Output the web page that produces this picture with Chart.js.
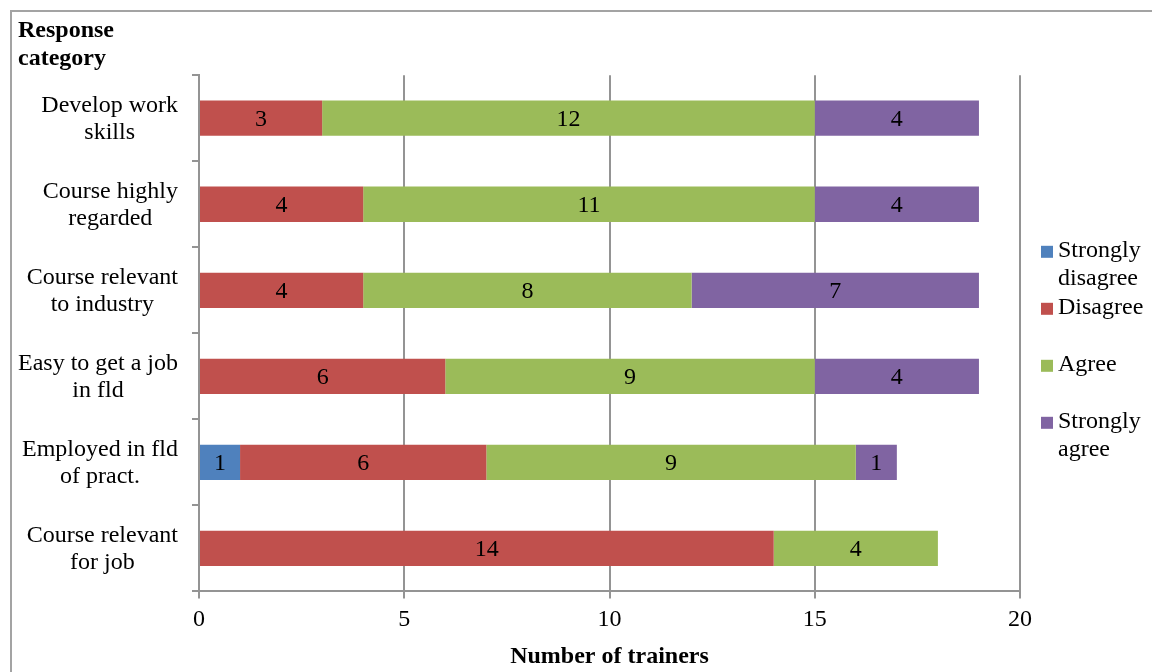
<!DOCTYPE html>
<html>
<head>
<meta charset="utf-8">
<script src="https://cdn.jsdelivr.net/npm/chart.js@4"></script>
<style>
  html, body { margin: 0; padding: 0; background: #fff; overflow: hidden; }
  #wrap { position: relative; width: 1152px; height: 672px; overflow: hidden; }
  #frame { position: absolute; left: 10px; top: 10px; width: 1400px; height: 900px; border: 2px solid #a3a3a3; box-sizing: border-box; }
  #survey { position: absolute; left: 0; top: 0; }
</style>
</head>
<body>
<div id="wrap">
  <div id="frame"></div>
  <canvas id="survey" width="1152" height="672"></canvas>
</div>
<script>
const categories = [
  ['Develop work', 'skills'],
  ['Course highly', 'regarded'],
  ['Course relevant', 'to industry'],
  ['Easy to get a job', 'in fld'],
  ['Employed in fld', 'of pract.'],
  ['Course relevant', 'for job']
];
const seriesNames = [['Strongly', 'disagree'], ['Disagree'], ['Agree'], ['Strongly', 'agree']];
const stronglyDisagree = [0, 0, 0, 0, 1, 0];
const disagree = [3, 4, 4, 6, 6, 14];
const agree = [12, 11, 8, 9, 9, 4];
const stronglyAgree = [4, 4, 7, 4, 1, 0];
const xTicks = [0, 5, 10, 15, 20];

const colors = ['#4F81BD', '#C0504D', '#9BBB59', '#8064A2'];
const FONT = '"Liberation Serif", "Times New Roman", serif';
const SIZE = 24;
const LINE = 27.6;
const gridColor = '#949494';

// value labels centred on each non-empty segment
const barLabels = {
  id: 'barLabels',
  afterDatasetsDraw(chart) {
    const ctx = chart.ctx;
    ctx.save();
    ctx.font = SIZE + 'px ' + FONT;
    ctx.fillStyle = '#000';
    ctx.textAlign = 'center';
    ctx.textBaseline = 'middle';
    chart.data.datasets.forEach((ds, di) => {
      chart.getDatasetMeta(di).data.forEach((bar, i) => {
        const v = ds.data[i];
        if (!v) return;
        const p = bar.getCenterPoint();
        ctx.fillText(String(v), p.x, p.y + 1);
      });
    });
    ctx.restore();
  }
};

// category names: lines centred within each block, blocks right-aligned to the axis
const categoryLabels = {
  id: 'categoryLabels',
  afterDraw(chart) {
    const ctx = chart.ctx;
    const y = chart.scales.y;
    const rightEdge = y.right - 21;
    ctx.save();
    ctx.font = SIZE + 'px ' + FONT;
    ctx.fillStyle = '#000';
    ctx.textAlign = 'center';
    ctx.textBaseline = 'middle';
    categories.forEach((lines, i) => {
      const cy = y.getPixelForTick(i);
      const w = Math.max(...lines.map(l => ctx.measureText(l).width));
      const cx = rightEdge - w / 2;
      lines.forEach((l, k) => {
        ctx.fillText(l, cx, cy + (k - (lines.length - 1) / 2) * LINE + 1);
      });
    });
    ctx.restore();
  }
};

// legend on the right, two-line names wrap under the first line
const sideLegend = {
  id: 'sideLegend',
  afterDraw(chart) {
    const ctx = chart.ctx;
    const area = chart.chartArea;
    const step = 57;
    const x0 = area.right + 21;
    const y0 = (area.top + area.bottom) / 2 - 1.5 * step + 3;
    ctx.save();
    ctx.font = SIZE + 'px ' + FONT;
    ctx.textAlign = 'left';
    ctx.textBaseline = 'middle';
    chart.data.datasets.forEach((ds, i) => {
      const y = y0 + i * step;
      ctx.fillStyle = ds.backgroundColor;
      ctx.fillRect(x0, y - 5, 12, 12);
      ctx.fillStyle = '#000';
      seriesNames[i].forEach((t, k) => ctx.fillText(t, x0 + 17, y + k * 28));
    });
    ctx.restore();
  }
};

const datasets = [stronglyDisagree, disagree, agree, stronglyAgree].map((d, i) => ({
  label: seriesNames[i].join(' '),
  data: d,
  backgroundColor: colors[i],
  borderWidth: 0,
  barPercentage: 0.41,
  categoryPercentage: 1
}));

new Chart(document.getElementById('survey'), {
  type: 'bar',
  data: { labels: categories.map(c => c.join(' ')), datasets },
  options: {
    indexAxis: 'y',
    responsive: false,
    animation: false,
    events: [],
    layout: { padding: { left: 18, right: 132, top: 6, bottom: 0 } },
    plugins: {
      legend: { display: false },
      tooltip: { enabled: false },
      title: {
        display: true,
        text: ['Response', 'category'],
        align: 'start',
        color: '#000',
        font: { family: FONT, size: SIZE, weight: 'bold', lineHeight: 1.15 },
        padding: { top: 11, bottom: 3 }
      }
    },
    scales: {
      x: {
        stacked: true,
        min: 0,
        max: 20,
        afterBuildTicks: s => { s.ticks = xTicks.map(v => ({ value: v })); },
        afterFit: s => { s.paddingRight = 0; s.paddingLeft = 0; },
        grid: { color: gridColor, lineWidth: 2, tickLength: 7, tickColor: gridColor },
        border: { display: true, color: gridColor, width: 2 },
        ticks: { color: '#000', padding: 7, font: { family: FONT, size: SIZE, lineHeight: 1.2 } },
        title: {
          display: true,
          text: 'Number of trainers',
          color: '#000',
          font: { family: FONT, size: SIZE, weight: 'bold', lineHeight: 1.2 },
          padding: { top: 1, bottom: 1 }
        }
      },
      y: {
        stacked: true,
        offset: true,
        afterFit: s => { s.width = 181; },
        grid: { offset: true, drawOnChartArea: false, tickLength: 7, color: gridColor, lineWidth: 2 },
        border: { display: true, color: gridColor, width: 2 },
        ticks: { display: false }
      }
    }
  },
  plugins: [barLabels, categoryLabels, sideLegend]
});
</script>
</body>
</html>
